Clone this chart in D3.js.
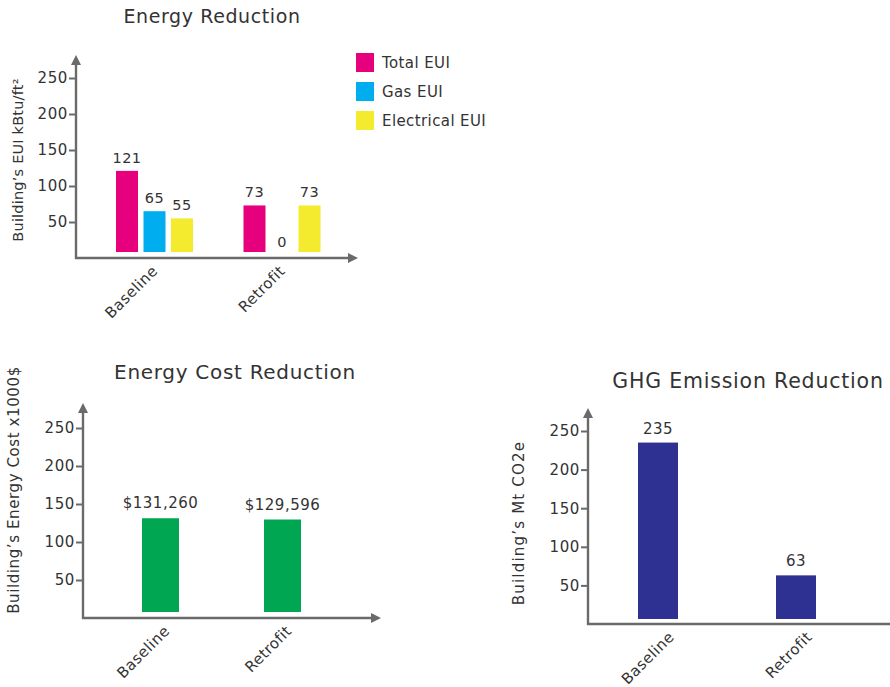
<!DOCTYPE html>
<html>
<head>
<meta charset="utf-8">
<script src="https://cdn.jsdelivr.net/npm/d3@7/dist/d3.min.js"></script>
<style>
  html, body { margin: 0; padding: 0; background: #fff; }
  svg { display: block; }
  text { font-family: "DejaVu Sans", "Noto Sans", sans-serif; fill: #333; }
</style>
</head>
<body>
<svg id="chart" width="890" height="687"></svg>
<script>
// ---------- DATA ----------
const categories = ["Baseline", "Retrofit"];
const euiSeries = ["Total EUI", "Gas EUI", "Electrical EUI"];
const totalEUI = [121, 73];
const gasEUI = [65, 0];
const electricalEUI = [55, 73];
const costValues = [131.260, 129.596];
const costLabels = ["$131,260", "$129,596"];
const ghgValues = [235, 63];
const yTicks = [50, 100, 150, 200, 250];

const titles = ["Energy Reduction", "Energy Cost Reduction", "GHG Emission Reduction"];
const yTitles = ["Building\u2019s EUI kBtu/ft\u00B2", "Building\u2019s Energy Cost x1000$", "Building\u2019s Mt CO2e"];

// ---------- STYLE ----------
const seriesColors = ["#E6007E", "#00AEEF", "#F4EB2E"];
const costColor = "#00A651";
const ghgColor = "#2E3192";
const axisColor = "#6a6a6a";

const svg = d3.select("#chart");

function drawAxes(g, cfg) {
  const { x0, y0, yTop, xEnd, y } = cfg;
  const ax = g.append("g")
    .attr("transform", `translate(${x0},0)`)
    .call(d3.axisLeft(y).tickValues(yTicks).tickSize(7).tickPadding(1));
  ax.select(".domain").remove();
  ax.selectAll(".tick line").attr("stroke", axisColor).attr("stroke-width", 2);
  ax.selectAll(".tick text").attr("fill", "#333").style("font-size", "15px")
    .style("letter-spacing", "0.6px")
    .style("font-family", "DejaVu Sans, sans-serif");

  g.append("line").attr("x1", x0).attr("x2", x0).attr("y1", y0 + 1).attr("y2", yTop + 6)
    .attr("stroke", axisColor).attr("stroke-width", 2.4);
  g.append("line").attr("x1", x0 - 1).attr("x2", xEnd - 6).attr("y1", y0).attr("y2", y0)
    .attr("stroke", axisColor).attr("stroke-width", 2.4);
  g.append("path").attr("d", `M${x0},${yTop} L${x0 - 5},${yTop + 10} L${x0 + 5},${yTop + 10} Z`)
    .attr("fill", axisColor);
  g.append("path").attr("d", `M${xEnd},${y0} L${xEnd - 10},${y0 - 5} L${xEnd - 10},${y0 + 5} Z`)
    .attr("fill", axisColor);
}

function drawCategoryLabels(g, xPos, y0, dx) {
  g.selectAll("text.cat").data(categories).join("text")
    .attr("class", "cat")
    .attr("transform", d => `translate(${xPos(d) + dx},${y0 + 6}) rotate(-45)`)
    .attr("text-anchor", "end")
    .attr("dy", "0.75em")
    .style("font-size", "15px")
    .style("letter-spacing", "0.4px")
    .text(d => d);
}

// ---------- CHART 1: Energy Reduction ----------
{
  const g = svg.append("g");
  const cfg = { x0: 76, y0: 258, yTop: 55, xEnd: 358 };
  cfg.y = d3.scaleLinear().domain([0, 250]).range([258, 78]);
  const xCat = d3.scalePoint().domain(categories).range([154.5, 282]);
  const xSer = d3.scaleBand().domain(euiSeries).range([-38.5, 38.5]).paddingInner(0.2);
  const seriesVals = [totalEUI, gasEUI, electricalEUI];
  const rows = [];
  categories.forEach((c, ci) => euiSeries.forEach((s, si) => rows.push({ c, s, si, v: seriesVals[si][ci] })));

  drawAxes(g, cfg);
  const gap = 6;
  g.selectAll("rect.bar").data(rows.filter(d => d.v > 0)).join("rect")
    .attr("class", "bar")
    .attr("x", d => xCat(d.c) + xSer(d.s))
    .attr("width", xSer.bandwidth())
    .attr("y", d => cfg.y(d.v))
    .attr("height", d => cfg.y(0) - gap - cfg.y(d.v))
    .attr("fill", d => seriesColors[d.si]);
  g.selectAll("text.val").data(rows).join("text")
    .attr("class", "val")
    .attr("x", d => xCat(d.c) + xSer(d.s) + xSer.bandwidth() / 2)
    .attr("y", d => d.v > 0 ? cfg.y(d.v) - 8 : cfg.y(0) - 11)
    .attr("text-anchor", "middle")
    .style("font-size", "14.5px")
    .style("letter-spacing", "0.5px")
    .text(d => d.v);

  drawCategoryLabels(g, xCat, cfg.y0, -4);

  g.append("text").attr("x", 212).attr("y", 23).attr("text-anchor", "middle")
    .style("font-size", "19px").style("letter-spacing", "0.6px").text(titles[0]);
  g.append("text").attr("transform", "translate(23,160) rotate(-90)").attr("text-anchor", "middle")
    .style("font-size", "14.5px").style("letter-spacing", "0.2px").text(yTitles[0]);

  const lg = g.append("g").attr("transform", "translate(356,53)");
  const items = lg.selectAll("g").data(euiSeries).join("g")
    .attr("transform", (d, i) => `translate(0,${i * 29})`);
  items.append("rect").attr("width", 18).attr("height", 19).attr("fill", (d, i) => seriesColors[i]);
  items.append("text").attr("x", 26).attr("y", 10).attr("dy", "0.35em")
    .style("font-size", "15px").style("letter-spacing", "0.4px").text(d => d);
}

// ---------- CHART 2: Energy Cost Reduction ----------
{
  const g = svg.append("g");
  const cfg = { x0: 83, y0: 618, yTop: 403, xEnd: 381 };
  cfg.y = d3.scaleLinear().domain([0, 250]).range([618, 428]);
  const xCat = d3.scalePoint().domain(categories).range([160.5, 282.5]);
  const bw = 37;
  drawAxes(g, cfg);
  const rows = categories.map((c, i) => ({ c, v: costValues[i], label: costLabels[i] }));
  g.selectAll("rect.bar").data(rows).join("rect")
    .attr("x", d => xCat(d.c) - bw / 2).attr("width", bw)
    .attr("y", d => cfg.y(d.v))
    .attr("height", d => cfg.y(0) - 6 - cfg.y(d.v))
    .attr("fill", costColor);
  g.selectAll("text.val").data(rows).join("text")
    .attr("x", d => xCat(d.c)).attr("y", d => cfg.y(d.v) - 10)
    .attr("text-anchor", "middle").style("font-size", "15px").style("letter-spacing", "0.5px")
    .text(d => d.label);
  drawCategoryLabels(g, xCat, cfg.y0, 2);
  g.append("text").attr("x", 235).attr("y", 379).attr("text-anchor", "middle")
    .style("font-size", "20px").style("letter-spacing", "0.7px").text(titles[1]);
  g.append("text").attr("transform", "translate(19,490) rotate(-90)").attr("text-anchor", "middle")
    .style("font-size", "15px").style("letter-spacing", "0.6px").text(yTitles[1]);
}

// ---------- CHART 3: GHG Emission Reduction ----------
{
  const g = svg.append("g");
  const cfg = { x0: 588, y0: 624, yTop: 408, xEnd: 900 };
  cfg.y = d3.scaleLinear().domain([0, 250]).range([624, 431]);
  const xCat = d3.scalePoint().domain(categories).range([658, 796]);
  const bw = 40;
  drawAxes(g, cfg);
  const rows = categories.map((c, i) => ({ c, v: ghgValues[i] }));
  g.selectAll("rect.bar").data(rows).join("rect")
    .attr("x", d => xCat(d.c) - bw / 2).attr("width", bw)
    .attr("y", d => cfg.y(d.v))
    .attr("height", d => cfg.y(0) - 5 - cfg.y(d.v))
    .attr("fill", ghgColor);
  g.selectAll("text.val").data(rows).join("text")
    .attr("x", d => xCat(d.c)).attr("y", d => cfg.y(d.v) - 9)
    .attr("text-anchor", "middle").style("font-size", "15px").style("letter-spacing", "0.5px")
    .text(d => d.v);
  drawCategoryLabels(g, xCat, cfg.y0, 9);
  g.append("text").attr("x", 748).attr("y", 388).attr("text-anchor", "middle")
    .style("font-size", "20.5px").style("letter-spacing", "0.8px").text(titles[2]);
  g.append("text").attr("transform", "translate(524,523) rotate(-90)").attr("text-anchor", "middle")
    .style("font-size", "15px").style("letter-spacing", "1.2px").text(yTitles[2]);
}
</script>
</body>
</html>
